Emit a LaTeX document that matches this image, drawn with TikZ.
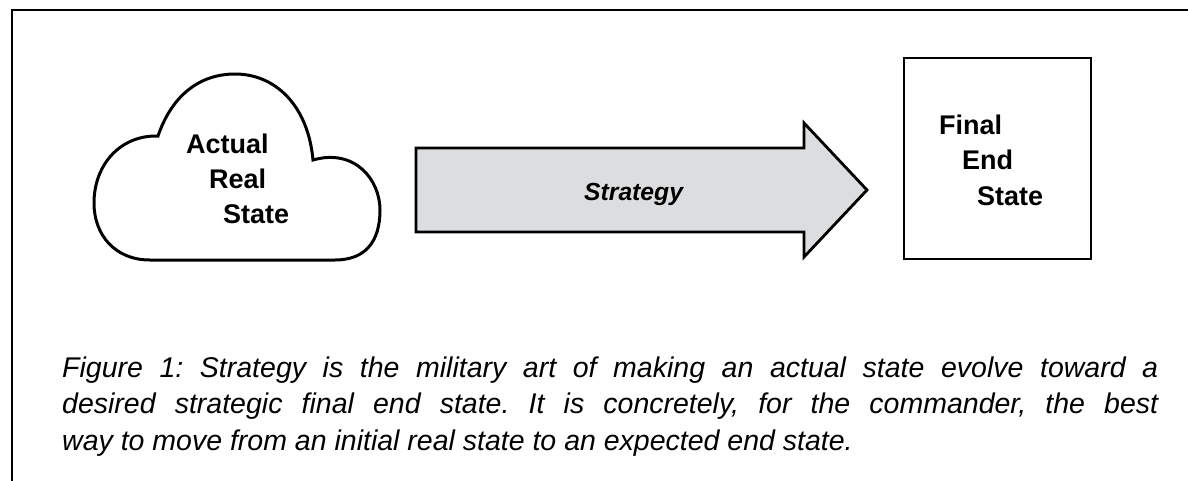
\documentclass[tikz,border=0pt]{standalone}
\usepackage{fontspec}
\setmainfont{Liberation Sans}
\frenchspacing
\definecolor{arrowgray}{HTML}{DCDDDF}
\tikzset{
  outline/.style={draw=black, line width=2.8pt, line join=miter},
  statelabel/.style={anchor=base west, inner sep=0pt, font=\fontsize{27}{32}\selectfont\bfseries},
  arrowlabel/.style={anchor=base west, inner sep=0pt, font=\fontsize{24.7}{30}\selectfont\bfseries\itshape},
  captionline/.style={anchor=base west, inner sep=0pt, font=\fontsize{28.5}{36}\selectfont\itshape}
}
\newcommand{\capfill}[1]{\makebox[1096pt][s]{#1}}
\begin{document}
\begin{tikzpicture}[x=1pt, y=-1pt]
  \useasboundingbox (0,0) rectangle (1188,480);

  % frame: left and top edges
  \draw[line width=2.7pt] (12,485) -- (12,10) -- (1195,10);

  % cloud: actual real state
  \draw[outline, line width=3pt]
    (150,260) .. controls (115,260) and (94,235) .. (94,203)
    .. controls (94,165) and (120,135) .. (158,136)
    .. controls (172,95) and (200,74) .. (235,74)
    .. controls (275,74) and (308,105) .. (313,160)
    .. controls (355,148) and (380,180) .. (380,210)
    .. controls (380,242) and (365,260) .. (335,260)
    -- cycle;
  \node[statelabel] (actual) at (186,153) {Actual};
  \node[statelabel] (real)   at (209,188) {Real};
  \node[statelabel] (rstate) at (223,223) {State};

  % strategy arrow
  \draw[outline, fill=arrowgray]
    (416,148) -- (804,148) -- (804,123) -- (867,190)
    -- (804,257) -- (804,232) -- (416,232) -- cycle;
  \node[arrowlabel] (strat) at (584,200) {Strategy};

  % final end state box
  \node[outline, rectangle, minimum width=187pt, minimum height=201pt,
        inner sep=0pt] (endbox) at (997.5,158.5) {};
  \node[statelabel] (final) at (939,134) {Final};
  \node[statelabel] (fend)  at (962,169) {End};
  \node[statelabel] (fstate) at (977,205) {State};

  % caption
  \node[captionline] (cap1) at (62,377)
    {\capfill{Figure 1: Strategy is the military art of making an actual state evolve toward a}};
  \node[captionline] (cap2) at (62,413.5)
    {\capfill{desired strategic final end state. It is concretely, for the commander, the best}};
  \node[captionline] (cap3) at (62,450)
    {way to move from an initial real state to an expected end state.};
\end{tikzpicture}
\end{document}
